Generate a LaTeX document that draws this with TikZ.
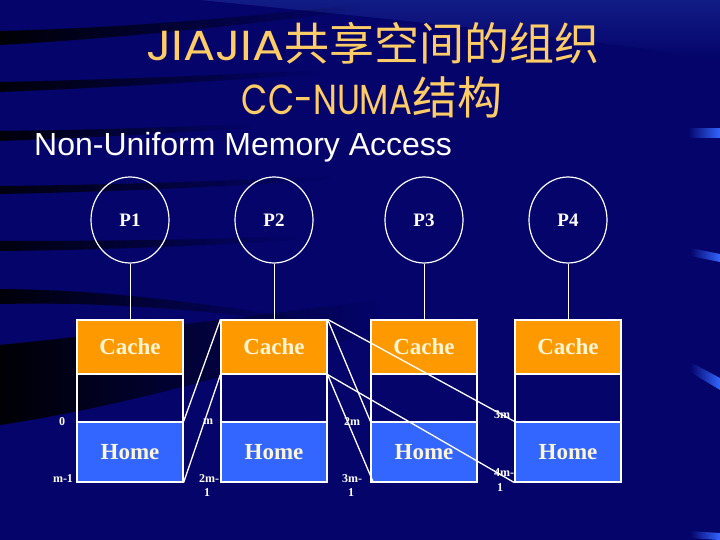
\documentclass[tikz,border=0pt]{standalone}
\usepackage{fontspec}
\usepackage{graphicx}
\setmainfont{Liberation Serif}
\newfontfamily\arialf{Liberation Sans}
\newfontfamily\cjk{Noto Sans CJK SC}
\newfontfamily\titlef{Poppins}
\usetikzlibrary{shapes.geometric,fadings}
\definecolor{bgnavy}{HTML}{04046A}
\definecolor{bglight}{HTML}{1A2A95}
\definecolor{cacheor}{HTML}{FF9900}
\definecolor{homeblue}{HTML}{3366FF}
\definecolor{cream}{HTML}{FFF6D8}
\definecolor{titleor}{HTML}{FFCC66}
\definecolor{accent}{HTML}{3366FF}
\tikzset{
  proc/.style={ellipse,draw=white,line width=1.2pt,minimum width=78pt,minimum height=86pt,inner sep=0pt,text=white,font=\bfseries\fontsize{19}{19}\selectfont},
  cachebox/.style={rectangle,draw=white,line width=1.2pt,fill=cacheor,minimum width=106pt,minimum height=54pt,inner sep=0pt,text=cream,font=\bfseries\fontsize{23}{23}\selectfont},
  midbox/.style={rectangle,draw=white,line width=1.2pt,minimum width=106pt,minimum height=48pt,inner sep=0pt},
  homebox/.style={rectangle,draw=white,line width=1.2pt,fill=homeblue,minimum width=106pt,minimum height=60pt,inner sep=0pt,text=cream,font=\bfseries\fontsize{23}{23}\selectfont},
  wire/.style={draw=white,line width=1pt},
  cross/.style={draw=white,line width=1.3pt},
  lbl/.style={text=white,inner sep=0pt,font=\bfseries\fontsize{12}{12}\selectfont},
  band/.style={fill=black,path fading=east},
  acc/.style={fill=accent,path fading=west}
}
\begin{document}
\begin{tikzpicture}[x=1pt,y=-1pt]
\useasboundingbox (0,0) rectangle (720,540);
% background
\fill[bgnavy] (0,0) rectangle (720,540);
\fill[bglight,path fading=south,opacity=0.7] (200,0) .. controls (400,0) and (600,-5) .. (720,0) -- (720,60) .. controls (600,40) and (400,20) .. (200,0) -- cycle;
% dark bands
\fill[band,opacity=0.95] (0,31) .. controls (120,28) and (240,18) .. (360,4) -- (360,10) .. controls (240,26) and (120,38) .. (0,45) -- cycle;
\fill[band,opacity=0.9] (0,82) .. controls (100,80) and (200,76) .. (320,70) -- (320,74) .. controls (200,82) and (100,88) .. (0,92) -- cycle;
\fill[band,opacity=0.9] (0,131) .. controls (80,130) and (160,128) .. (250,124) -- (250,128) .. controls (160,134) and (80,138) .. (0,141) -- cycle;
\fill[band,opacity=0.85] (0,186) .. controls (100,185) and (200,182) .. (330,176) -- (330,180) .. controls (200,188) and (100,192) .. (0,194) -- cycle;
\fill[band,opacity=0.85] (0,241) .. controls (100,241) and (200,240) .. (300,236) -- (300,240) .. controls (200,246) and (100,250) .. (0,251) -- cycle;
\fill[band,opacity=0.9] (0,289) .. controls (100,290) and (180,300) .. (300,318) -- (300,322) .. controls (180,308) and (100,302) .. (0,304) -- cycle;
\fill[band,opacity=0.95] (0,345) .. controls (100,335) and (220,320) .. (380,300) -- (380,330) .. controls (220,380) and (100,410) .. (0,425) -- cycle;
% right accents
\fill[acc] (688,128) rectangle (720,138);
\fill[acc] (690,248) -- (720,254) -- (720,262) -- (690,256) -- cycle;
\fill[acc] (690,362) -- (720,378) -- (720,390) -- (690,372) -- cycle;
\fill[acc] (690,531) -- (720,533) -- (720,540) -- (690,538) -- cycle;
% titles
\node[text=titleor,inner sep=0pt] (t1) at (373,43) {{\titlef\fontsize{42}{42}\selectfont\scalebox{1.14}[1]{JIAJIA}}{\cjk\fontsize{45}{45}\selectfont 共享空间的组织}};
\node[text=titleor,inner sep=0pt] (t2) at (372,97) {{\titlef\fontsize{42}{42}\selectfont\scalebox{0.81}[1]{CC-NUMA}}{\cjk\fontsize{45}{45}\selectfont 结构}};
\node[text=white,inner sep=0pt,anchor=west] (t3) at (34,147) {\arialf\fontsize{32}{32}\selectfont Non-Uniform Memory Access};
% processors
\foreach \i/\x in {1/130,2/274,3/424,4/568}{
  \node[proc] (p\i) at (\x,220) {P\i};
  \node[cachebox] (c\i) at (\x,347) {Cache};
  \node[midbox] (m\i) at (\x,398) {};
  \node[homebox] (h\i) at (\x,452) {Home};
  \draw[wire] (p\i) -- (c\i);
}
% cross connectors
\draw[cross] (h1.north east) -- (c2.north west);
\draw[cross] (h1.south east) -- (c2.south west);
\draw[cross] (c2.north east) -- (h3.north west);
\draw[cross] (c2.south east) -- ([xshift=3pt]h3.south west);
\draw[cross] (c2.north east) -- (h4.north west);
\draw[cross] (c2.south east) -- (h4.south west);
% address labels
\node[lbl] (a0) at (62,422) {0};
\node[lbl] (a1) at (63,479) {m-1};
\node[lbl] (a2) at (208,422) {m};
\node[lbl] (a3) at (209,479) {2m-};
\node[lbl] (a4) at (207,493) {1};
\node[lbl] (a5) at (352,422) {2m};
\node[lbl] (a6) at (352,479) {3m-};
\node[lbl] (a7) at (351,493) {1};
\node[lbl] (a8) at (502,415) {3m};
\node[lbl] (a9) at (504,473) {4m-};
\node[lbl] (a10) at (500,488) {1};
\end{tikzpicture}
\end{document}
